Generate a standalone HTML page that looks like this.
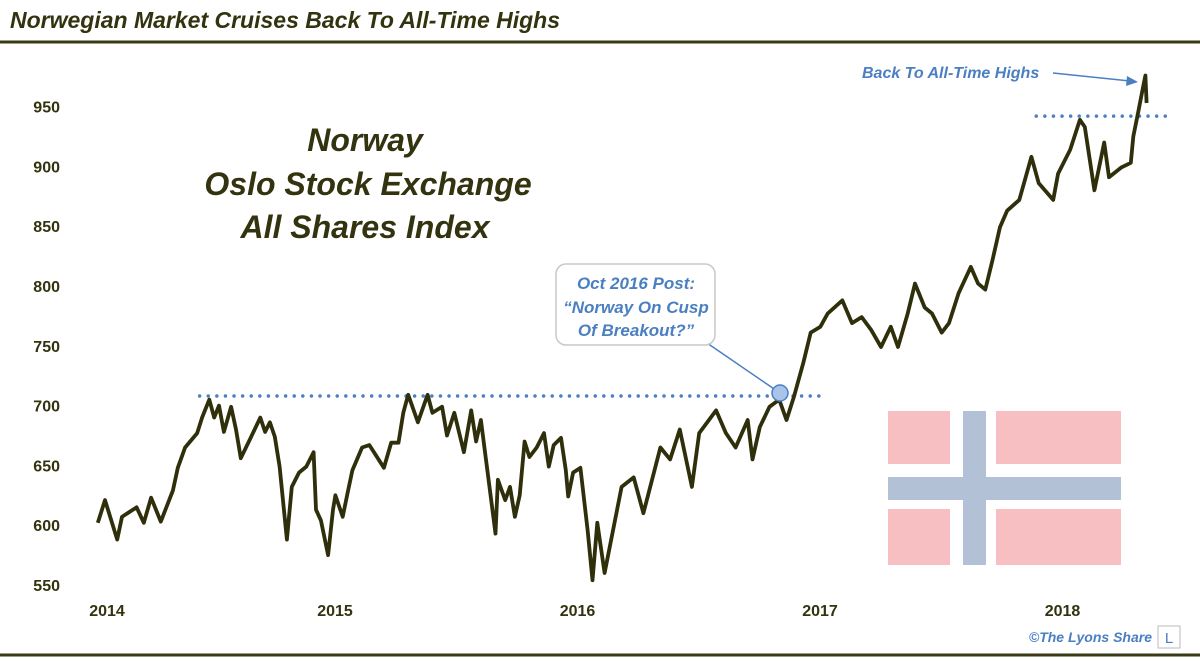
<!DOCTYPE html>
<html><head><meta charset="utf-8"><style>
body{margin:0;background:#fff;}
svg{display:block;font-family:"Liberation Sans",sans-serif;}
</style></head><body>
<svg width="1200" height="661" viewBox="0 0 1200 661">
<text x="10" y="28" font-size="23" font-weight="bold" font-style="italic" fill="#33330f">Norwegian Market Cruises Back To All-Time Highs</text>
<line x1="0" y1="42" x2="1200" y2="42" stroke="#3a3a14" stroke-width="3"/>
<line x1="0" y1="655" x2="1200" y2="655" stroke="#3a3a14" stroke-width="3"/>
<g id="yaxis"></g>
<g id="xaxis"></g>
<g font-size="32" font-weight="bold" font-style="italic" fill="#33330f" text-anchor="middle">
<text x="365" y="151">Norway</text>
<text x="368" y="195">Oslo Stock Exchange</text>
<text x="365" y="238">All Shares Index</text>
</g>
<g>
<rect x="888" y="411" width="233" height="154" fill="#f7bfc1"/>
<rect x="950" y="411" width="13" height="154" fill="#fff"/>
<rect x="986" y="411" width="10" height="154" fill="#fff"/>
<rect x="888" y="464" width="233" height="13" fill="#fff"/>
<rect x="888" y="500" width="233" height="9" fill="#fff"/>
<rect x="963" y="411" width="23" height="154" fill="#b3c1d6"/>
<rect x="888" y="477" width="233" height="23" fill="#b3c1d6"/>
</g>
<g id="dots"></g>
<path id="series" fill="none" stroke="#2f2f0c" stroke-width="3.8" stroke-linejoin="round"/>
<g>
<line x1="707" y1="343" x2="780" y2="393" stroke="#4a7fc1" stroke-width="1.5"/>
<rect x="556" y="264" width="159" height="81" rx="10" fill="#fff" stroke="#c8c8c8" stroke-width="1.5"/>
<g font-size="17" font-weight="bold" font-style="italic" fill="#4a7fc1" text-anchor="middle">
<text x="636" y="289">Oct 2016 Post:</text>
<text x="636" y="313">“Norway On Cusp</text>
<text x="636" y="336">Of Breakout?”</text></g>
<circle cx="780" cy="393" r="8" fill="#a8c4ea" stroke="#4a7fc1" stroke-width="1.5"/>
</g>
<g>
<text x="862" y="78" font-size="16" font-weight="bold" font-style="italic" fill="#4a7fc1">Back To All-Time Highs</text>
<line x1="1053" y1="73" x2="1130" y2="81" stroke="#4a7fc1" stroke-width="1.5"/>
<polygon points="1138,82 1127,76 1126,86" fill="#4a7fc1"/>
</g>
<text x="1152" y="642" font-size="14" font-weight="bold" font-style="italic" fill="#4a7fc1" text-anchor="end">©The Lyons Share</text>
<rect x="1158" y="626" width="22" height="22" fill="#fff" stroke="#bbb"/>
<text x="1169" y="643" font-size="15" fill="#4a7fc1" text-anchor="middle">L</text>
</svg>
<script>
const yTicks=[550,600,650,700,750,800,850,900,950];
const xTickYears=[2014,2015,2016,2017,2018];
const dates=[0.03,0.06,0.11,0.13,0.19,0.22,0.25,0.29,0.34,0.36,0.39,0.44,0.46,0.49,0.51,0.53,0.55,0.58,0.60,0.62,0.66,0.70,0.72,0.74,0.76,0.78,0.81,0.83,0.86,0.89,0.92,0.93,0.95,0.98,1.00,1.01,1.04,1.06,1.08,1.12,1.15,1.21,1.24,1.27,1.29,1.31,1.35,1.39,1.41,1.45,1.47,1.50,1.54,1.57,1.59,1.61,1.63,1.67,1.68,1.71,1.73,1.75,1.77,1.79,1.81,1.84,1.87,1.89,1.91,1.94,1.96,1.97,1.99,2.02,2.05,2.07,2.09,2.12,2.19,2.24,2.28,2.35,2.39,2.43,2.48,2.51,2.58,2.62,2.66,2.71,2.73,2.76,2.80,2.84,2.87,2.90,2.94,2.97,3.01,3.04,3.10,3.14,3.18,3.22,3.26,3.30,3.33,3.37,3.40,3.44,3.47,3.51,3.54,3.58,3.63,3.66,3.69,3.72,3.75,3.78,3.83,3.88,3.91,3.97,3.99,4.04,4.08,4.10,4.14,4.18,4.20,4.25,4.29,4.30,4.32,4.34,4.35,4.355];
const values=[602,621,588,607,615,602,623,603,629,648,665,677,690,705,690,700,678,699,680,656,673,690,678,686,674,649,588,632,644,649,661,613,604,575,613,625,607,627,646,665,667,648,669,669,694,709,686,709,694,699,675,694,661,696,670,688,656,593,638,621,632,607,625,670,657,665,677,649,667,673,646,624,644,648,596,554,602,560,632,640,610,665,655,680,632,677,696,677,665,688,655,682,699,705,688,707,736,761,766,777,788,769,774,763,749,766,749,777,802,782,777,761,769,794,816,802,797,822,849,863,872,908,886,872,894,914,939,933,880,920,891,899,903,925,945,966,976,953];
const resistance=[{v:708,from:0.45,to:3.02},{v:942,from:3.90,to:4.45}];
const X=t=>90.5+t*242.5;
const Y=v=>585-(v-550)*1.196;
const NS="http://www.w3.org/2000/svg";
const ya=document.getElementById('yaxis');
yTicks.forEach(v=>{const t=document.createElementNS(NS,'text');


t.setAttribute('x',60);t.setAttribute('y',Y(v)+6);t.setAttribute('text-anchor','end');
t.setAttribute('font-size','16');t.setAttribute('font-weight','bold');t.setAttribute('fill','#33330f');
t.textContent=v;ya.appendChild(t);});
const xa=document.getElementById('xaxis');
xTickYears.forEach(yr=>{const t=document.createElementNS(NS,'text');


t.setAttribute('x',yr===2014?107:X(yr-2014)+2);t.setAttribute('y',616);t.setAttribute('text-anchor','middle');
t.setAttribute('font-size','16');t.setAttribute('font-weight','bold');t.setAttribute('fill','#33330f');
t.textContent=yr;xa.appendChild(t);});
document.getElementById('series').setAttribute('d',dates.map((d,i)=>(i?'L':'M')+X(d).toFixed(1)+','+Y(values[i]).toFixed(1)).join(''));
const dg=document.getElementById('dots');
resistance.forEach(r=>{const l=document.createElementNS(NS,'line');


l.setAttribute('x1',X(r.from));l.setAttribute('x2',Math.min(1172,X(r.to)));l.setAttribute('y1',Y(r.v));l.setAttribute('y2',Y(r.v));
l.setAttribute('stroke','#4a7fc1');l.setAttribute('stroke-width','3.5');l.setAttribute('stroke-linecap','round');l.setAttribute('stroke-dasharray','0 8.6');
dg.appendChild(l);});
</script>
</body></html>
